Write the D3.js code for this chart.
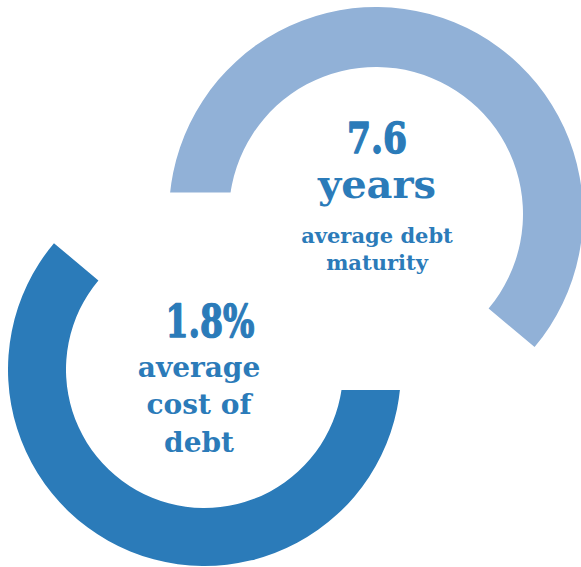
<!DOCTYPE html>
<html>
<head>
<meta charset="utf-8">
<script src="https://cdn.jsdelivr.net/npm/d3@7"></script>
<style>
  html, body { margin: 0; padding: 0; background: #ffffff; }
  svg { display: block; }
  text { font-family: "DejaVu Serif", serif; font-weight: bold; fill: #2b7bb9; }
  text.big { stroke: #2b7bb9; stroke-width: 1.4; stroke-linejoin: round; }
</style>
</head>
<body>
<svg id="chart" width="581" height="567"></svg>
<script>
// ---- data ----
const metricNames = ["Average debt maturity", "Average cost of debt"];
const metricValues = ["7.6", "1.8%"];
const metricLines = [["years", "average debt", "maturity"], ["average", "cost of", "debt"]];
// arc extents in degrees (clockwise from 12 o'clock)
const arcStartDeg = [-83, 97];
const arcEndDeg = [130, 310];
const ringColors = ["#91b1d7", "#2b7bb9"];

// ---- layout ----
const svg = d3.select("#chart");
const rings = [
  { cx: 376, cy: 214, r0: 147, r1: 207, cutSide: "left" },
  { cx: 204.5, cy: 369.5, r0: 138.5, r1: 196.5, cutSide: "right" }
];
const rad = d3.scaleLinear().domain([0, 360]).range([0, 2 * Math.PI]);

const defs = svg.append("defs");

rings.forEach((g, i) => {
  const start = arcStartDeg[i], end = arcEndDeg[i];
  const midR = (g.r0 + g.r1) / 2;
  // the near-horizontal end is cut with a horizontal edge
  const cutY = g.cy - midR * Math.cos(rad(start));
  const a0 = rad(start - 17), a1 = rad(end);
  let clipRects;
  if (g.cutSide === "left") {
    clipRects = [
      { x: g.cx, y: -1000, w: 2000, h: 3000 },
      { x: -1000, y: -1000, w: 3000, h: cutY + 1000 }
    ];
  } else {
    clipRects = [
      { x: -1000, y: -1000, w: g.cx + 1000, h: 3000 },
      { x: -1000, y: cutY, w: 3000, h: 2000 }
    ];
  }
  const cp = defs.append("clipPath").attr("id", "clip" + i);
  cp.selectAll("rect").data(clipRects).join("rect")
    .attr("x", d => d.x).attr("y", d => d.y).attr("width", d => d.w).attr("height", d => d.h);

  const arc = d3.arc().innerRadius(g.r0).outerRadius(g.r1).startAngle(a0).endAngle(a1);
  svg.append("g")
    .attr("clip-path", "url(#clip" + i + ")")
    .append("path")
    .attr("transform", `translate(${g.cx},${g.cy})`)
    .attr("d", arc())
    .attr("fill", ringColors[i])
    .append("title").text(metricNames[i]);
});

// ---- labels ----
const upper = svg.append("g").attr("transform", `translate(${rings[0].cx + 1},${rings[0].cy})`)
  .attr("text-anchor", "middle");
upper.append("text").attr("class", "big").attr("y", -61).attr("font-size", 42)
  .attr("textLength", 60).attr("lengthAdjust", "spacingAndGlyphs").text(metricValues[0]);
upper.append("text").attr("y", -16).attr("font-size", 40).text(metricLines[0][0]);
upper.append("text").attr("y", 29).attr("font-size", 21).text(metricLines[0][1]);
upper.append("text").attr("y", 56).attr("font-size", 21).text(metricLines[0][2]);

const lower = svg.append("g").attr("transform", `translate(${rings[1].cx - 5.5},${rings[1].cy})`)
  .attr("text-anchor", "middle");
lower.append("text").attr("class", "big").attr("x", 11).attr("y", -32.5).attr("font-size", 44)
  .attr("textLength", 89).attr("lengthAdjust", "spacingAndGlyphs").text(metricValues[1]);
lower.append("text").attr("y", 7).attr("font-size", 28).text(metricLines[1][0]);
lower.append("text").attr("y", 44).attr("font-size", 28).text(metricLines[1][1]);
lower.append("text").attr("y", 82).attr("font-size", 28).text(metricLines[1][2]);
</script>
</body>
</html>
